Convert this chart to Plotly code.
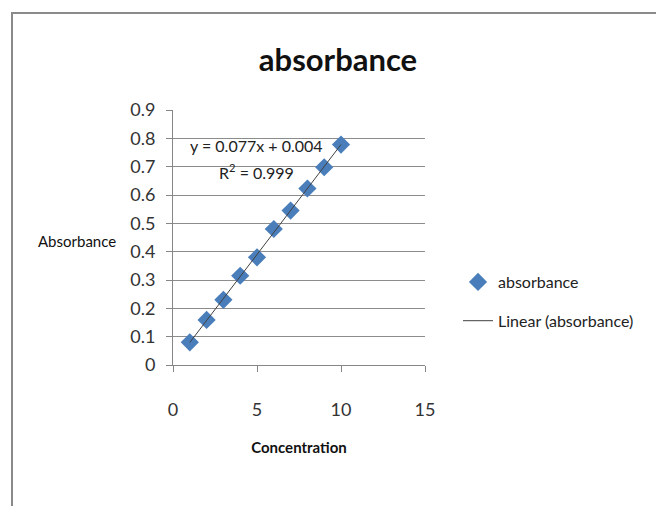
import numpy as np
import plotly.graph_objects as go

concentration = [1, 2, 3, 4, 5, 6, 7, 8, 9, 10]
absorbance = [0.080, 0.159, 0.230, 0.315, 0.380, 0.480, 0.545, 0.623, 0.698, 0.778]
x_ticks = [0, 5, 10, 15]
y_ticks = [0, 0.1, 0.2, 0.3, 0.4, 0.5, 0.6, 0.7, 0.8, 0.9]

slope, intercept = np.polyfit(concentration, absorbance, 1)
fit_x = [min(concentration), max(concentration)]
fit_y = [slope * v + intercept for v in fit_x]

FONT = "Lato, Open Sans, sans-serif"

W, H = 656, 506
L, R, T, B = 173, 231, 110, 141
pw, ph = W - L - R, H - T - B

def px(xp):
    return (xp - L) / pw

def py(yp):
    return (H - B - yp) / ph

fig = go.Figure()
fig.add_trace(go.Scatter(
    x=concentration, y=absorbance, mode="markers", name="absorbance",
    legendgroup="a",
    marker=dict(symbol="diamond", size=14, color="#4a7ebb",
                line=dict(width=0)),
))
fig.add_trace(go.Scatter(
    x=fit_x, y=fit_y, mode="lines", name="Linear (absorbance)",
    legendgroup="b",
    line=dict(color="#404040", width=1),
))

fig.update_layout(
    width=W, height=H,
    margin=dict(l=L, r=R, t=T, b=B, autoexpand=False),
    paper_bgcolor="white", plot_bgcolor="white",
    font=dict(family=FONT, size=16, color="#222"),
    title=dict(text="<b>absorbance</b>", x=338 / W, xanchor="center",
               y=1 - 60 / H, yanchor="middle",
               font=dict(family=FONT, size=31, color="#111")),
    showlegend=True,
    legend=dict(x=px(458), y=py(265), xanchor="left", yanchor="top",
                font=dict(family=FONT, size=16, color="#222"),
                bgcolor="rgba(0,0,0,0)", tracegroupgap=15, itemwidth=30),
    xaxis=dict(range=[0, 15], tickvals=x_ticks, showgrid=False,
               showline=True, linecolor="#868686", linewidth=1,
               ticks="outside", ticklen=6, tickcolor="#868686",
               zeroline=False, tickfont=dict(size=18, color="#333"),
               ticklabelstandoff=22,
               title=dict(text="<b>Concentration</b>", standoff=23,
                          font=dict(size=15, color="#111"))),
    yaxis=dict(range=[0, 0.9], tickvals=y_ticks, showgrid=True,
               gridcolor="#8c8c8c", gridwidth=1,
               showline=True, linecolor="#868686", linewidth=1,
               ticks="outside", ticklen=6, tickcolor="#868686",
               zeroline=False, tickfont=dict(size=18, color="#333"),
               ticklabelstandoff=7, tickformat="~g"),
)

fig.add_annotation(text="Absorbance", xref="paper", yref="paper",
                   x=px(77), y=py(241), xanchor="center", yanchor="middle",
                   showarrow=False,
                   font=dict(family=FONT, size=15, color="#111"))
fig.add_annotation(text="y = 0.077x + 0.004", xref="paper", yref="paper",
                   x=px(256), y=py(145), xanchor="center", yanchor="middle",
                   showarrow=False,
                   font=dict(family=FONT, size=16, color="#222"))
fig.add_annotation(text="R<sup>2</sup> = 0.999", xref="paper", yref="paper",
                   x=px(256), y=py(171), xanchor="center", yanchor="middle",
                   showarrow=False,
                   font=dict(family=FONT, size=16, color="#222"))

# chart border
fig.add_shape(type="line", xref="paper", yref="paper",
              x0=px(12), y0=py(13), x1=px(12), y1=py(506),
              line=dict(color="#8a8a8a", width=2))
fig.add_shape(type="line", xref="paper", yref="paper",
              x0=px(11), y0=py(13), x1=px(656), y1=py(13),
              line=dict(color="#8a8a8a", width=2))

fig.write_html("out.html")
